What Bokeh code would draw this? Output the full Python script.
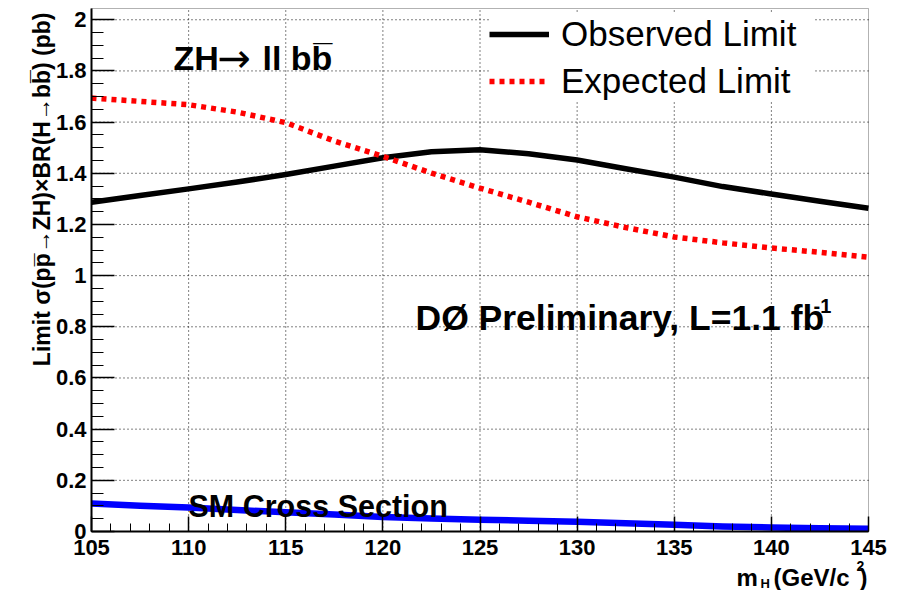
import math

from bokeh.embed import file_html
from bokeh.models import BoxAnnotation, FixedTicker, Label, Legend, LegendItem, Range1d
from bokeh.plotting import figure
from bokeh.resources import INLINE

# Higgs mass points (GeV/c^2)
mass = [105, 107.5, 110, 112.5, 115, 117.5, 120, 122.5, 125,
        127.5, 130, 132.5, 135, 137.5, 140, 142.5, 145]

# 95% CL limits on sigma(ppbar->ZH) x BR(H->bb) in pb
observed = [1.287, 1.313, 1.339, 1.366, 1.395, 1.428, 1.461, 1.484, 1.492,
            1.476, 1.452, 1.418, 1.385, 1.348, 1.319, 1.291, 1.263]
expected = [1.694, 1.681, 1.668, 1.639, 1.598, 1.526, 1.466, 1.401, 1.342,
            1.287, 1.230, 1.188, 1.151, 1.128, 1.108, 1.091, 1.072]
sm_xsec = [0.109, 0.101, 0.094, 0.084, 0.075, 0.066, 0.057, 0.051, 0.046,
           0.042, 0.038, 0.032, 0.026, 0.020, 0.016, 0.013, 0.011]

x_major = [105, 110, 115, 120, 125, 130, 135, 140, 145]
x_minor = list(range(105, 146))
y_major = [0, 0.2, 0.4, 0.6, 0.8, 1.0, 1.2, 1.4, 1.6, 1.8, 2.0]
y_minor = [round(i * 0.05, 2) for i in range(0, 41)]
y_labels = {0: "0", 0.2: "0.2", 0.4: "0.4", 0.6: "0.6", 0.8: "0.8", 1.0: "1",
            1.2: "1.2", 1.4: "1.4", 1.6: "1.6", 1.8: "1.8", 2.0: "2"}

FONT = "Liberation Sans"
W, H = 897, 590
# pad margins (px) around the histogram frame, ROOT style
M_LEFT, M_RIGHT, M_TOP, M_BOTTOM = 91, 29, 8, 59
X0, X1 = 105.0, 145.0
Y0, Y1 = 0.0, 2.044

sx = (W - M_LEFT - M_RIGHT) / (X1 - X0)
sy = (H - M_TOP - M_BOTTOM) / (Y1 - Y0)


def px_x(px):
    return X0 + (px - M_LEFT) / sx


def px_y(py):
    return Y0 + (H - M_BOTTOM - py) / sy


# The canvas is one frame; the axes sit at fixed positions inside it so that
# the axis titles can be placed freely around the histogram box.
p = figure(width=W, height=H, output_backend="svg", toolbar_location=None,
           title=None,
           x_range=Range1d(px_x(0), px_x(W)), y_range=Range1d(px_y(H), px_y(0)),
           min_border=0, min_border_left=0, min_border_right=0,
           min_border_top=0, min_border_bottom=0)
p.background_fill_color = "white"
p.border_fill_color = "white"
p.outline_line_color = None
p.xgrid.visible = False
p.ygrid.visible = False

p.xaxis.fixed_location = Y0
p.yaxis.fixed_location = X0
p.xaxis.bounds = (X0, X1)
p.yaxis.bounds = (Y0, Y1)
p.xaxis.ticker = FixedTicker(ticks=x_major, minor_ticks=x_minor)
p.yaxis.ticker = FixedTicker(ticks=y_major, minor_ticks=y_minor)
p.yaxis.major_label_overrides = y_labels
for ax in (p.xaxis, p.yaxis):
    ax.axis_line_width = 2
    ax.axis_line_color = "black"
    ax.major_tick_out = 0
    ax.minor_tick_out = 0
    ax.major_tick_line_width = 1.5
    ax.minor_tick_line_width = 1
    ax.major_tick_line_color = "black"
    ax.minor_tick_line_color = "black"
    ax.major_label_text_font = FONT
    ax.major_label_text_font_style = "bold"
    ax.major_label_text_font_size = "22px"
    ax.major_label_text_color = "black"
p.xaxis.major_tick_in = 15
p.xaxis.minor_tick_in = 8
p.yaxis.major_tick_in = 23
p.yaxis.minor_tick_in = 12
p.xaxis.major_label_standoff = 8
p.yaxis.major_label_standoff = 5

# dotted grid inside the histogram box
gx = [t for t in x_major if X0 < t < X1]
gy = [t for t in y_major if Y0 < t < Y1]
p.segment(x0=gx, y0=[Y0] * len(gx), x1=gx, y1=[Y1] * len(gx),
          line_color="black", line_width=1, line_dash="1 3")
p.segment(x0=[X0] * len(gy), y0=gy, x1=[X1] * len(gy), y1=gy,
          line_color="black", line_width=1, line_dash="1 3")

obs_r = p.line(mass, observed, line_color="black", line_width=5.5, line_join="round")
exp_r = p.line(mass, expected, line_color="red", line_width=5.5, line_dash="5 5",
               line_cap="butt")
p.line(mass, sm_xsec, line_color="blue", line_width=6.5, line_join="round")

# histogram box border
p.add_layout(BoxAnnotation(left=X0, right=X1, bottom=Y0, top=Y1,
                           fill_alpha=0, line_color="black", line_width=1))

legend = Legend(items=[LegendItem(label="Observed Limit", renderers=[obs_r]),
                       LegendItem(label="Expected Limit", renderers=[exp_r])],
                location=(489, 488), padding=3, spacing=4, margin=0,
                glyph_width=60, glyph_height=20, label_height=43,
                label_width=253, label_standoff=12,
                label_text_font=FONT, label_text_font_size="35px",
                label_text_color="black", border_line_color=None,
                background_fill_color="white", background_fill_alpha=1.0)
p.add_layout(legend, "center")


def text(x_px, y_px, s, size, bold=True, font=FONT, **kw):
    p.add_layout(Label(x=px_x(x_px), y=px_y(y_px), text=s, text_font=font,
                       text_font_size=size,
                       text_font_style="bold" if bold else "normal",
                       text_color="black", text_baseline="alphabetic", **kw))


# channel title: ZH -> ll bb
text(173, 57, "ZH", "34px")
text(217, 57, "\u2192", "40px", bold=False, font="DejaVu Sans")
text(262, 57, "ll bb\u0305", "34px")

text(415, 317, "D\u00d8 Preliminary, L=1.1 fb", "35.5px")
text(813, 305, "-1", "20px")
text(188, 505, "SM Cross Section", "30.5px")

# y axis title, aligned to the top of the box
text(41, 12, "Limit \u03c3(pp\u0305\u2192ZH)\u00d7BR(H\u2192bb\u0305) (pb)", "23px",
     angle=math.pi / 2, text_align="right")

# x axis title: m_H (GeV/c^2), aligned to the right end of the box
text(736, 577, "m", "24px")
text(760, 583, "H", "13px")
text(773, 577, "(GeV/c", "24px")
text(856, 565, "2", "14px")
text(867, 577, ")", "24px", text_align="right")

open("out.html", "w").write(file_html(p, INLINE))
